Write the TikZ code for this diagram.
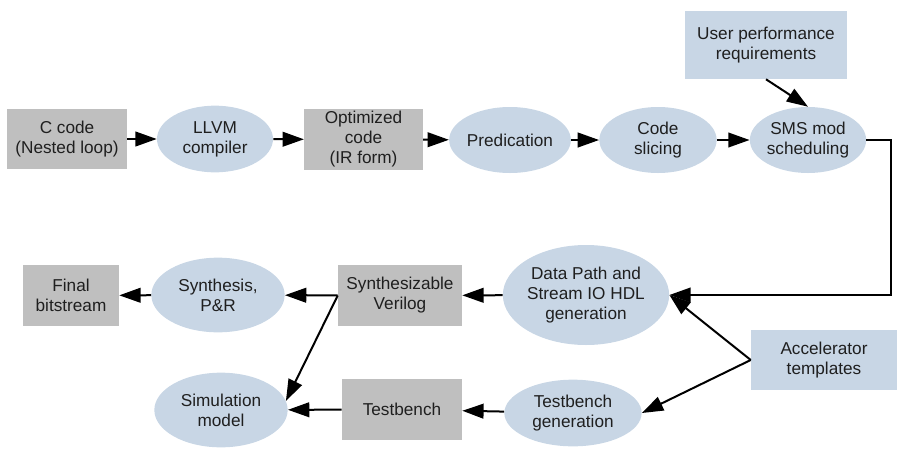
\documentclass[tikz,border=0pt]{standalone}
\usepackage{fontspec}
\setmainfont{Liberation Sans}
\usetikzlibrary{shapes.geometric,arrows.meta}
\definecolor{grb}{RGB}{191,191,191}
\definecolor{blx}{RGB}{200,214,229}
\colorlet{txk}{black!88}
\tikzset{
    lbl/.style={inner sep=0pt,align=center,text=txk,font=\fontsize{12.9}{15}\selectfont},
    gbox/.style={lbl,fill=grb},
    bbox/.style={lbl,fill=blx},
    oval/.style={lbl,ellipse,fill=blx},
    flow/.style={line width=1.5pt,-{Triangle[length=16pt,width=11pt]}}
}

\begin{document}
\begin{tikzpicture}[x=0.75pt,y=-0.75pt]
            \useasboundingbox (0,0) rectangle (907,454);
            % top row
            \node [gbox,minimum width=90pt,minimum height=45pt] (ccode) at (67,139) {C code\\(Nested loop)};
            \node [oval,minimum width=87pt,minimum height=50pt] (llvm) at (215,139) {LLVM\\compiler};
            \node [gbox,minimum width=89pt,minimum height=46pt] (opt) at (363.5,139.5) {Optimized\\code\\(IR form)};
            \node [oval,minimum width=85.5pt,minimum height=49.5pt] (pred) at (510,140) {Predication};
            \node [oval,minimum width=88pt,minimum height=49.5pt] (slice) at (658,140) {Code\\slicing};
            \node [oval,minimum width=86pt,minimum height=49.5pt] (sms) at (808,140) {SMS mod\\scheduling};
            \node [bbox,minimum width=121.5pt,minimum height=51pt] (user) at (766,45) {User performance\\requirements};
            % bottom rows
            \node [gbox,minimum width=72pt,minimum height=46pt] (final) at (71,295.5) {Final\\bitstream};
            \node [oval,minimum width=100pt,minimum height=56pt] (synth) at (218,295) {Synthesis,\\P\&R};
            \node [gbox,minimum width=93pt,minimum height=46pt] (sv) at (400,295.5) {Synthesizable\\Verilog};
            \node [oval,minimum width=121.5pt,minimum height=75pt] (dp) at (586,295) {Data Path and\\Stream IO HDL\\generation};
            \node [bbox,minimum width=109.5pt,minimum height=45pt] (accel) at (824,360) {Accelerator\\templates};
            \node [oval,minimum width=100pt,minimum height=56pt] (sim) at (221,410) {Simulation\\model};
            \node [gbox,minimum width=90pt,minimum height=46pt] (tb) at (402,409.5) {Testbench};
            \node [oval,minimum width=103pt,minimum height=50pt] (tbgen) at (573,413) {Testbench\\generation};
            % connectors
            \draw [flow] (ccode) -- (llvm);
            \draw [flow] (llvm) -- (opt);
            \draw [flow] (opt) -- (pred);
            \draw [flow] (pred) -- (slice);
            \draw [flow] (slice) -- (sms);
            \draw [flow] (user.south) -- (sms.north);
            \draw [flow] (sms.east) -- ++(25,0) |- (dp.east);
            \draw [flow] (accel.west) -- (dp.east);
            \draw [flow] (accel.west) -- (tbgen.east);
            \draw [flow] (dp) -- (sv);
            \draw [flow] (sv) -- (synth);
            \draw [flow] (synth) -- (final);
            \draw [flow] (sv.west) -- (sim.8);
            \draw [flow] (tbgen) -- (tb);
            \draw [flow] (tb) -- (sim);
        \end{tikzpicture}
\end{document}
